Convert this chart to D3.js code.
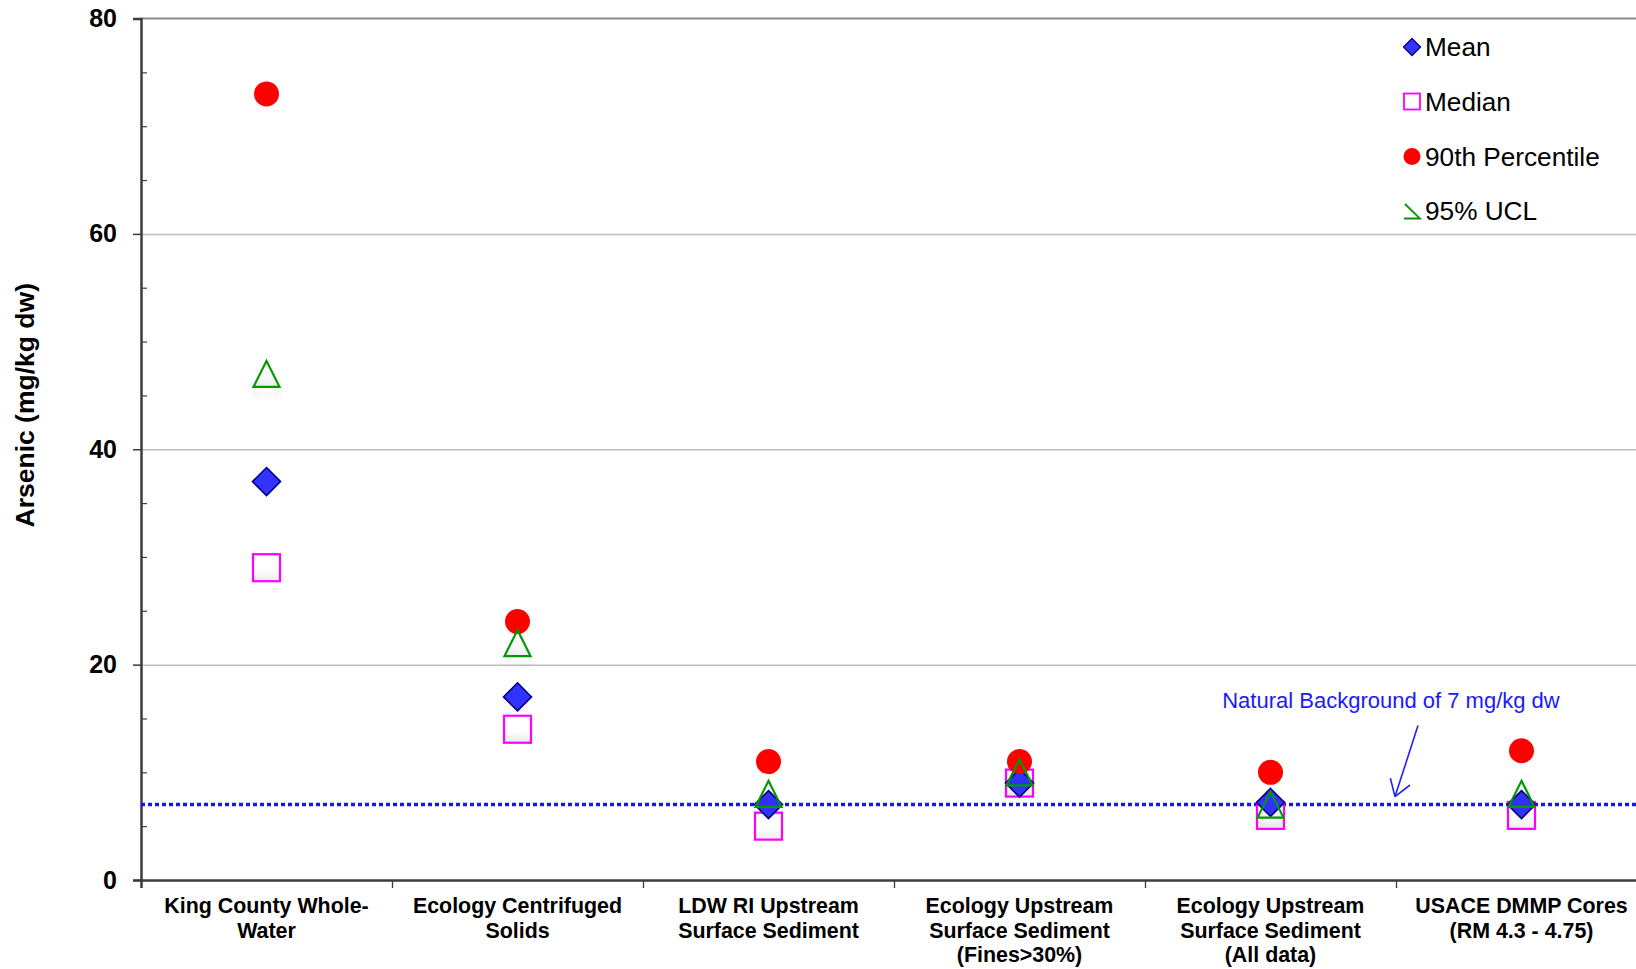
<!DOCTYPE html>
<html>
<head>
<meta charset="utf-8">
<script src="https://cdn.jsdelivr.net/npm/d3@7/dist/d3.min.js"></script>
<style>
  html, body { margin: 0; padding: 0; background: #fff; }
  svg { display: block; }
  text { font-family: "Liberation Sans", Arial, Helvetica, sans-serif; }
</style>
</head>
<body>
<svg id="chart" width="1636" height="969"></svg>
<script>
// Sampling groups (each entry is a list of label lines)
const categories = [
  ["King County Whole-", "Water"],
  ["Ecology Centrifuged", "Solids"],
  ["LDW RI Upstream", "Surface Sediment"],
  ["Ecology Upstream", "Surface Sediment", "(Fines>30%)"],
  ["Ecology Upstream", "Surface Sediment", "(All data)"],
  ["USACE DMMP Cores", "(RM 4.3 - 4.75)"]
];

// Arsenic statistics, mg/kg dw
const meanValues   = [37, 17, 7, 9, 7.2, 7];
const medianValues = [29, 14, 5, 9, 6, 6];
const p90Values    = [73, 24, 11, 11, 10, 12];
const ucl95Values  = [47, 22, 8, 10, 7, 8];

const seriesNames = ["Mean", "Median", "90th Percentile", "95% UCL"];
const yMajorTicks = [0, 20, 40, 60, 80];
const yMinorTicks = [5, 10, 15, 25, 30, 35, 45, 50, 55, 65, 70, 75];
const backgroundLevel = 7;
const backgroundLabel = "Natural Background of 7 mg/kg dw";
const yTitle = "Arsenic (mg/kg dw)";

(function drawChart() {
const svg = d3.select("#chart");
const plotLeft = 141, plotTop = 18.5, plotBottom = 880, bandW = 251;
const plotRight = plotLeft + bandW * categories.length;

const x = d3.scaleBand().domain(d3.range(categories.length)).range([plotLeft, plotRight]).paddingInner(0).paddingOuter(0);
const xEdge = d3.scaleLinear().domain([0, categories.length]).range([plotLeft, plotRight]);
const y = d3.scaleLinear().domain([0, 80]).range([plotBottom, plotTop]);

const defs = svg.append("defs");
// faint blurred shadow cast below a marker
const shadow = defs.append("filter").attr("id", "soft").attr("x", "-50%").attr("y", "-50%").attr("width", "200%").attr("height", "200%");
shadow.append("feGaussianBlur").attr("in", "SourceAlpha").attr("stdDeviation", 3).attr("result", "b");
shadow.append("feOffset").attr("in", "b").attr("dy", 8).attr("result", "o");
shadow.append("feComponentTransfer").attr("in", "o").attr("result", "s")
  .append("feFuncA").attr("type", "linear").attr("slope", 0.08);
const mg = shadow.append("feMerge");
mg.append("feMergeNode").attr("in", "s");
mg.append("feMergeNode").attr("in", "SourceGraphic");

const innerGrad = defs.append("linearGradient").attr("id", "innerFade").attr("x1", 0).attr("y1", 0).attr("x2", 0).attr("y2", 1);
innerGrad.append("stop").attr("offset", "0%").attr("stop-color", "#ffffff");
innerGrad.append("stop").attr("offset", "55%").attr("stop-color", "#ffffff");
innerGrad.append("stop").attr("offset", "100%").attr("stop-color", "#ececec");

const clearGrad = defs.append("linearGradient").attr("id", "clearFade").attr("x1", 0).attr("y1", 0).attr("x2", 0).attr("y2", 1);
clearGrad.append("stop").attr("offset", "0%").attr("stop-color", "#000").attr("stop-opacity", 0);
clearGrad.append("stop").attr("offset", "60%").attr("stop-color", "#000").attr("stop-opacity", 0);
clearGrad.append("stop").attr("offset", "100%").attr("stop-color", "#000").attr("stop-opacity", 0.06);

// Horizontal gridlines
const grid = svg.append("g").attr("transform", `translate(${plotLeft},0)`)
  .call(d3.axisLeft(y).tickValues([20, 40, 60]).tickSize(-(1636 - plotLeft)).tickFormat(""));
grid.select(".domain").remove();
grid.selectAll("line").attr("stroke", "#bebebe").attr("stroke-width", 1.5);

// Top border of the plot
svg.append("line").attr("x1", plotLeft).attr("x2", 1636).attr("y1", y(80)).attr("y2", y(80))
  .attr("stroke", "#8c8c8c").attr("stroke-width", 2);

// Minor ticks inside the plot
const minor = svg.append("g").attr("transform", `translate(${plotLeft},0)`)
  .call(d3.axisRight(y).tickValues(yMinorTicks).tickSize(6).tickFormat(""));
minor.select(".domain").remove();
minor.selectAll("line").attr("stroke", "#404040").attr("stroke-width", 1.2);

// Y axis with labels
const yAxis = svg.append("g").attr("transform", `translate(${plotLeft},0)`)
  .call(d3.axisLeft(y).tickValues(yMajorTicks).tickSize(8).tickPadding(16).tickFormat(d3.format("d")));
yAxis.select(".domain").attr("stroke", "#3c3c3c").attr("stroke-width", 2.5);
yAxis.selectAll("line").attr("stroke", "#3c3c3c").attr("stroke-width", 1.5);
yAxis.selectAll("text").attr("font-size", 25).attr("font-weight", "bold").attr("fill", "#000")
  .attr("font-family", "'Liberation Sans', Arial, sans-serif");

// X axis: separators between groups
const xAxis = svg.append("g").attr("transform", `translate(0,${plotBottom})`)
  .call(d3.axisBottom(xEdge).tickValues(d3.range(1, categories.length + 1)).tickSize(8).tickFormat(""));
xAxis.select(".domain").attr("stroke", "#3c3c3c").attr("stroke-width", 2.5);
xAxis.selectAll("line").attr("stroke", "#3c3c3c").attr("stroke-width", 1.3);

// Group labels
const lab = svg.append("g").selectAll("text").data(categories).join("text")
  .attr("x", (d, i) => x(i) + x.bandwidth() / 2)
  .attr("y", 913)
  .attr("text-anchor", "middle")
  .attr("font-size", 21.4).attr("font-weight", "bold").attr("fill", "#000");
lab.selectAll("tspan").data(d => d).join("tspan")
  .attr("x", function () { return this.parentNode.getAttribute("x"); })
  .attr("dy", (d, i) => i === 0 ? 0 : 24.5)
  .text(d => d);

// Y axis title
svg.append("text")
  .attr("transform", `translate(34,${(plotTop + plotBottom) / 2 - 44}) rotate(-90)`)
  .attr("text-anchor", "middle")
  .attr("font-size", 26.5).attr("font-weight", "bold").attr("fill", "#000")
  .text(yTitle);

// Natural background reference line
svg.append("line")
  .attr("x1", plotLeft).attr("x2", 1636)
  .attr("y1", y(backgroundLevel)).attr("y2", y(backgroundLevel))
  .attr("stroke", "#1414ff").attr("stroke-width", 3.5).attr("stroke-dasharray", "4,3");

// Annotation text and arrow
const tipX = 1395, tipY = y(backgroundLevel) - 8;
svg.append("text").attr("x", 1391).attr("y", 708).attr("text-anchor", "middle")
  .attr("font-size", 22).attr("fill", "#1a1aff").text(backgroundLabel);
const startX = tipX + 23, startY = tipY - 71;
svg.append("line").attr("x1", startX).attr("y1", startY).attr("x2", tipX).attr("y2", tipY)
  .attr("stroke", "#2020ff").attr("stroke-width", 1.6);
const ang = Math.atan2(startY - tipY, startX - tipX);
[-0.56, 0.6].forEach(a => {
  svg.append("line").attr("x1", tipX).attr("y1", tipY)
    .attr("x2", tipX + 19 * Math.cos(ang + a)).attr("y2", tipY + 19 * Math.sin(ang + a))
    .attr("stroke", "#2020ff").attr("stroke-width", 1.6);
});

// Marker shapes
const cx = i => x(i) + x.bandwidth() / 2;
const diamondPath = (s) => `M0,${-s}L${s},0L0,${s}L${-s},0Z`;
const trianglePath = (w, h) => `M0,${-h / 2}L${w / 2},${h / 2}L${-w / 2},${h / 2}Z`;

const marks = svg.append("g");

// Median
marks.append("g").selectAll("rect").data(medianValues).join("rect")
  .attr("x", (d, i) => cx(i) - 13.5).attr("y", d => y(d) - 13.5)
  .attr("width", 27).attr("height", 27)
  .attr("fill", "url(#innerFade)")
  .attr("stroke", "#ff00ff").attr("stroke-width", 2.2);

// Mean
marks.append("g").selectAll("path").data(meanValues).join("path")
  .attr("d", diamondPath(14))
  .attr("transform", (d, i) => `translate(${cx(i)},${y(d)})`)
  .attr("fill", "#3333ff").attr("stroke", "#000080").attr("stroke-width", 1.6);

// 90th percentile
marks.append("g").selectAll("circle").data(p90Values).join("circle")
  .attr("cx", (d, i) => cx(i)).attr("cy", d => y(d)).attr("r", 12.5)
  .attr("fill", "#ff0000");

// 95% UCL
marks.append("g").selectAll("path").data(ucl95Values).join("path")
  .attr("d", trianglePath(26, 26))
  .attr("transform", (d, i) => `translate(${cx(i)},${y(d)})`)
  .attr("fill", "url(#clearFade)")
  .attr("stroke", "#009900").attr("stroke-width", 2.2)
  .attr("filter", "url(#soft)");

// Legend
const legX = 1412, legRows = [47, 101.5, 156.5, 211];
const leg = svg.append("g");
leg.append("path").attr("d", diamondPath(8.5)).attr("transform", `translate(${legX},${legRows[0]})`)
  .attr("fill", "#3333ff").attr("stroke", "#000080").attr("stroke-width", 1.3);
leg.append("rect").attr("x", legX - 8).attr("y", legRows[1] - 8).attr("width", 16).attr("height", 16)
  .attr("fill", "none").attr("stroke", "#ff00ff").attr("stroke-width", 1.8);
leg.append("circle").attr("cx", legX).attr("cy", legRows[2]).attr("r", 8.5).attr("fill", "#ff0000");
leg.append("path")
  .attr("d", `M${legX - 7},${legRows[3] - 7}L${legX + 8},${legRows[3] + 7.5}L${legX - 8},${legRows[3] + 7.5}`)
  .attr("fill", "none").attr("stroke", "#009900").attr("stroke-width", 1.8);
leg.selectAll("text").data(seriesNames).join("text")
  .attr("x", 1425).attr("y", (d, i) => legRows[i] + 9)
  .attr("font-size", 26.2).attr("fill", "#000")
  .text(d => d);
})();
</script>
</body>
</html>
